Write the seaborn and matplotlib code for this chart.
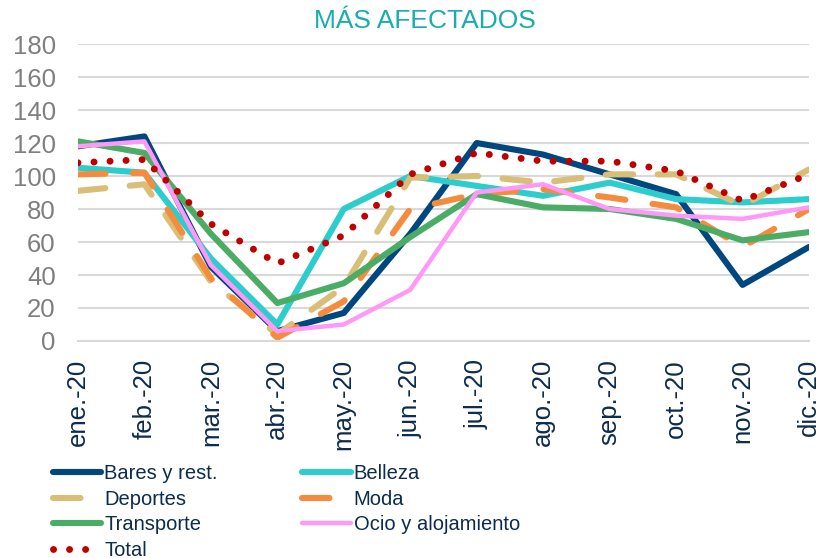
import matplotlib
matplotlib.use("Agg")
import matplotlib.pyplot as plt
import pandas as pd
import seaborn as sns

# ---------------------------------------------------------------------------
# Data
# ---------------------------------------------------------------------------
MONTHS = ["ene.-20", "feb.-20", "mar.-20", "abr.-20", "may.-20", "jun.-20",
          "jul.-20", "ago.-20", "sep.-20", "oct.-20", "nov.-20", "dic.-20"]

bares = [118, 124, 45, 6, 17, 65, 120, 113, 101, 89, 34, 57]
belleza = [105, 102, 50, 10, 80, 100, 94, 88, 96, 86, 84, 86]
deportes = [91, 95, 36, 4, 33, 99, 100, 96, 101, 101, 82, 104]
moda = [101, 102, 38, 2, 24, 80, 89, 92, 87, 81, 57, 80]
transporte = [121, 114, 65, 23, 35, 63, 89, 81, 80, 74, 61, 66]
ocio = [118, 121, 46, 6, 10, 31, 90, 95, 80, 76, 74, 81]
total = [108, 110, 71, 47, 64, 101, 114, 109, 109, 103, 85, 101]

SERIES = {
    "Bares y rest.": bares,
    "Belleza": belleza,
    "Deportes": deportes,
    "Moda": moda,
    "Transporte": transporte,
    "Ocio y alojamiento": ocio,
    "Total": total,
}

# colour, linewidth, dash pattern (None = solid)
STYLES = {
    "Bares y rest.": ("#00467F", 4.4, None),
    "Belleza": ("#2ECDCD", 4.4, None),
    "Deportes": ("#D9BE78", 4.4, (4.5, 4)),
    "Moda": ("#F58B3C", 4.4, (4.5, 4.5)),
    "Transporte": ("#4BAD65", 4.4, None),
    "Ocio y alojamiento": ("#FF99F7", 3.2, None),
    "Total": ("#C00000", 5.0, (0.01, 2.3)),
}

# legend is filled column-wise, so order it to read row by row like the original
LEGEND_ORDER = ["Bares y rest.", "Deportes", "Transporte", "Total",
                "Belleza", "Moda", "Ocio y alojamiento"]

df = pd.DataFrame({"month": MONTHS, **SERIES})
long_df = df.melt(id_vars="month", var_name="serie", value_name="valor")

# ---------------------------------------------------------------------------
# Plot
# ---------------------------------------------------------------------------
sns.set_style("white")
plt.rcParams["font.family"] = ["Liberation Sans", "DejaVu Sans"]

fig = plt.figure(figsize=(8.25, 5.58), dpi=100)
ax = fig.add_axes([0.0945, 0.3889, 0.8861, 0.5322])

handles = {}
for name in SERIES:
    color, lw, dashes = STYLES[name]
    sub = long_df[long_df["serie"] == name]
    sns.lineplot(data=sub, x="month", y="valor", ax=ax, color=color,
                 linewidth=lw, sort=False, label=name)
    line = ax.get_lines()[-1]
    if dashes is not None:
        line.set_dashes(dashes)
        line.set_dash_capstyle("round")
    handles[name] = line

ax.get_legend().remove()
ax.set_xlim(0, len(MONTHS) - 1)
ax.set_ylim(0, 180)
ax.set_yticks(range(0, 181, 20))
ax.set_xlabel("")
ax.set_ylabel("")

ax.yaxis.grid(True, color="#D9D9D9", linewidth=1.5)
ax.set_axisbelow(True)
for side in ["top", "right", "left"]:
    ax.spines[side].set_visible(False)
ax.spines["bottom"].set_color("#D9D9D9")
ax.spines["bottom"].set_linewidth(1.5)

ax.tick_params(axis="y", length=0, labelsize=18.5, labelcolor="#7F7F7F", pad=16)
ax.tick_params(axis="x", length=6, width=1.5, color="#D9D9D9",
               labelsize=18.5, labelcolor="#0D2B4E", rotation=90, pad=7)

fig.text(0.515, 0.963, "MÁS AFECTADOS", ha="center", va="center",
         fontsize=19, color="#1AADAE")

fig.legend([handles[n] for n in LEGEND_ORDER], LEGEND_ORDER,
           loc="upper left", bbox_to_anchor=(0.052, 0.186), ncol=2,
           frameon=False, borderpad=0, handlelength=2.4, handletextpad=0.15,
           columnspacing=4.2, labelspacing=0.32,
           prop={"family": ["Liberation Sans", "DejaVu Sans"], "size": 14.5},
           labelcolor="#0D2B4E")

fig.savefig("out.png", dpi=100)
